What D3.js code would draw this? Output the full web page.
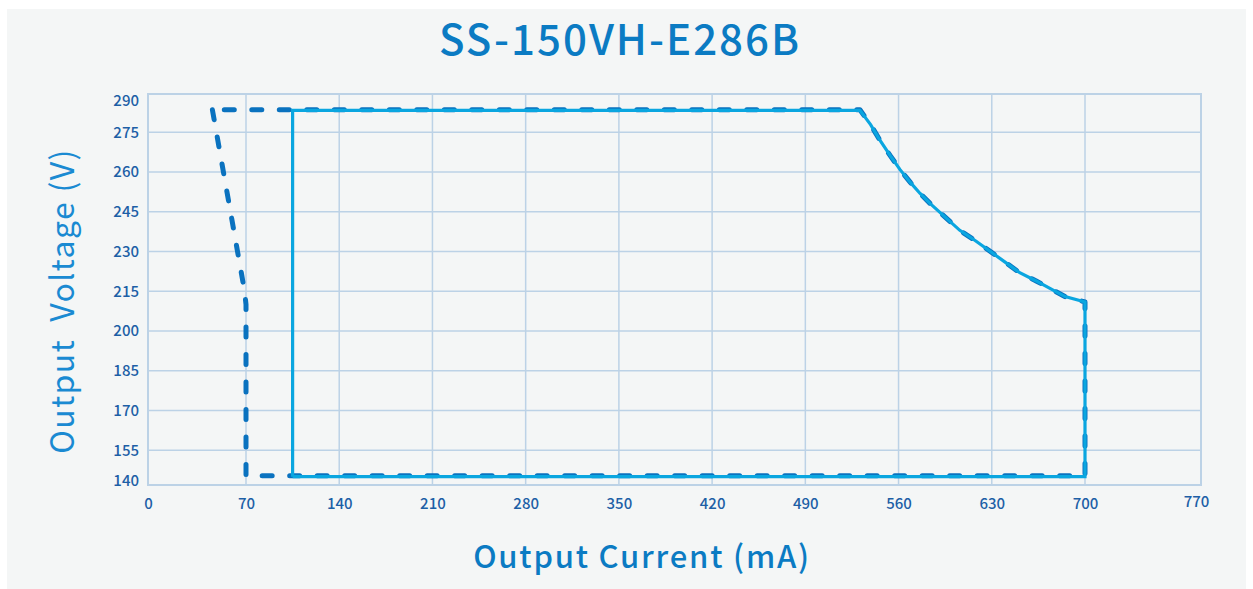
<!DOCTYPE html>
<html><head><meta charset="utf-8">
<script src="https://cdn.jsdelivr.net/npm/d3@7"></script>
<style>
html,body{margin:0;padding:0;background:#fff;}
svg{display:block;font-family:"Noto Sans CJK SC","Noto Sans",sans-serif;}
</style></head>
<body>
<svg id="chart" width="1253" height="589"></svg>
<script>
// ---- data ----
const title = "SS-150VH-E286B";
const xTitle = "Output Current (mA)";
const yTitle = "Output  Voltage (V)";
const xTicks = [0,70,140,210,280,350,420,490,560,630,700,770];
const yTicks = [140,155,170,185,200,215,230,245,260,275,290];

// solid (light blue) operating window
const solidCurrent = [105,105,531,539,546,554,561,569,576,584,595,606,618,629,640,651,663,674,685,700,700,105];
const solidVoltage = [143.6,283.6,283.6,278,272,266,261,256,252,248,243,238,234,230,226,222,219,216,213,211,143.6,143.6];

// dashed (dark blue) operating window
const dashCurrent = [46,69,70,70,700,700,685,674,663,651,640,629,618,606,595,584,576,569,561,554,546,539,531,46];
const dashVoltage = [283.8,215,210,144,144,211,213,216,219,222,226,230,234,238,243,248,252,256,261,266,272,278,283.8,283.8];

// ---- drawing ----
const svg = d3.select("#chart");
svg.append("rect").attr("x",7).attr("y",9).attr("width",1239).attr("height",580).attr("fill","#f4f6f6");

const x = d3.scaleLinear().domain([0,70,700,770]).range([148,246,1085,1201]);
const y = d3.scaleLinear().domain([140,155,275,290]).range([485,450.3,132.3,94]);

const gridColor = "#bcd2e6";
const g = svg.append("g");
g.selectAll("line.vx").data(xTicks).join("line")
  .attr("x1",d=>x(d)).attr("x2",d=>x(d)).attr("y1",y(290)).attr("y2",y(140))
  .attr("stroke",gridColor).attr("stroke-width",1.5);
g.selectAll("line.hy").data(yTicks).join("line")
  .attr("x1",x(0)).attr("x2",x(770)).attr("y1",d=>y(d)).attr("y2",d=>y(d))
  .attr("stroke",gridColor).attr("stroke-width",1.5);
g.append("rect").attr("x",x(0)).attr("y",y(290)).attr("width",x(770)-x(0)).attr("height",y(140)-y(290))
  .attr("fill","none").attr("stroke",gridColor).attr("stroke-width",2);

const xAxis = d3.axisBottom(x).tickValues(xTicks).tickSize(0).tickPadding(13).tickFormat(d=>d);
const yAxis = d3.axisLeft(y).tickValues(yTicks).tickSize(0).tickPadding(9).tickFormat(d=>d);
const gx = svg.append("g").attr("transform",`translate(0,${y(140)})`).call(xAxis);
const gy = svg.append("g").attr("transform",`translate(${x(0)},0)`).call(yAxis);
[gx,gy].forEach(a=>{
  a.select(".domain").remove();
  a.selectAll("text").attr("fill","#1d5fa6").style("font-size","15px").style("font-weight","500")
   .style("font-family",'"Noto Sans CJK SC","Noto Sans",sans-serif');
});
gy.selectAll(".tick").filter(d=>d===290).select("text").attr("dy","0.75em");
gy.selectAll(".tick").filter(d=>d===140).select("text").attr("dy","0");
gx.selectAll(".tick").filter(d=>d===770).select("text").attr("dx","-5").attr("dy","0.62em");

const line = d3.line().x(d=>x(d[0])).y(d=>y(d[1])).curve(d3.curveLinear);
const dashPts = dashCurrent.map((c,i)=>[c,dashVoltage[i]]);
const solidPts = solidCurrent.map((c,i)=>[c,solidVoltage[i]]);
svg.append("path").attr("d",line(dashPts)).attr("fill","none")
  .attr("stroke","#0a72bf").attr("stroke-width",5).attr("stroke-dasharray","10,17.5")
  .attr("stroke-linecap","round").attr("stroke-linejoin","round");
svg.append("path").attr("d",line(solidPts)).attr("fill","none")
  .attr("stroke","#0aa6e0").attr("stroke-width",3.2).attr("stroke-linejoin","miter");

svg.append("text").attr("x",620).attr("y",55).attr("text-anchor","middle")
  .attr("fill","#0b7bc3").style("font-size","42px").style("font-weight","500").style("letter-spacing","2px")
  .text(title);
svg.append("text").attr("x",642).attr("y",568).attr("text-anchor","middle")
  .attr("fill","#0b7bc3").style("font-size","31px").style("font-weight","500").style("letter-spacing","1.8px")
  .text(xTitle);
svg.append("text").attr("transform","translate(74,301) rotate(-90)").attr("text-anchor","middle")
  .attr("fill","#1a8ad2").style("font-size","32px").style("font-weight","400").style("letter-spacing","1.4px")
  .attr("xml:space","preserve").text(yTitle);
</script>
</body></html>
